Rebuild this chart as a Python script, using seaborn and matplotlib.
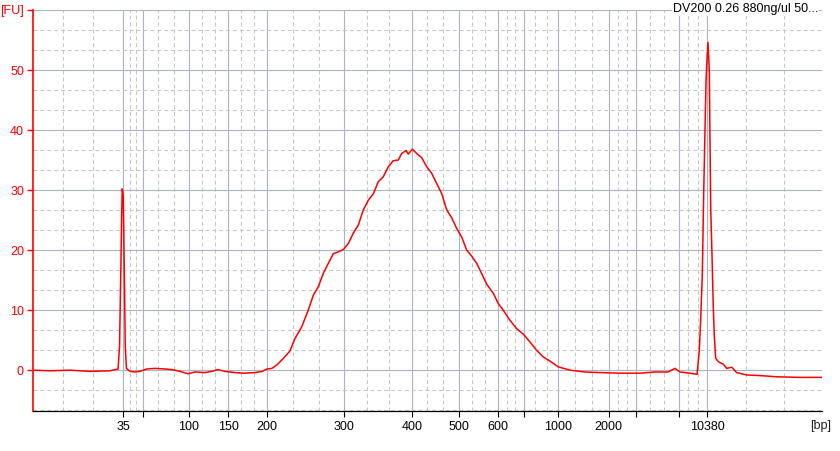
import numpy as np
import pandas as pd
import seaborn as sns
import matplotlib.pyplot as plt
from matplotlib.ticker import MultipleLocator, FixedLocator

# migration time (s) and fluorescence (FU)
time_s = [19.0, 20.13, 21.47, 22.8, 24.13, 24.67, 24.77, 24.85, 24.91, 24.95, 25.02, 25.09, 25.15, 25.23,
          25.47, 25.8, 26.13, 26.6, 27.13, 27.8, 28.27, 28.8, 29.33, 29.8, 30.47, 30.93, 31.33, 31.8,
          32.47, 33.13, 33.8, 34.27, 34.6, 34.93, 35.27, 35.67, 36.13, 36.47, 36.91, 37.35, 37.69, 38.02,
          38.35, 38.69, 39.02, 39.35, 39.69, 40.02, 40.35, 40.69, 41.02, 41.35, 41.69, 42.02, 42.35, 42.69,
          43.02, 43.35, 43.58, 43.87, 44.02, 44.29, 44.58, 44.91, 45.25, 45.58, 45.91, 46.25, 46.58, 46.91,
          47.25, 47.58, 47.91, 48.25, 48.58, 48.91, 49.25, 49.69, 50.02, 50.35, 50.8, 51.25, 51.69, 52.13,
          52.58, 53.02, 53.47, 54.02, 54.8, 55.8, 56.8, 58.13, 59.47, 60.47, 61.33, 61.8, 62.13, 62.8,
          63.27, 63.42, 63.51, 63.62, 63.71, 63.8, 63.87, 63.93, 64.0, 64.09, 64.13, 64.18, 64.27, 64.35,
          64.42, 64.51, 64.69, 65.02, 65.25, 65.58, 65.91, 66.58, 67.47, 68.58, 70.13, 71.6]
fu = [0.0, -0.1, 0.0, -0.2, -0.1, 0.2, 3.9, 16.0, 25.5, 30.2, 29.0, 16.0, 4.0, 0.3,
      -0.2, -0.3, -0.2, 0.2, 0.3, 0.2, 0.1, -0.2, -0.6, -0.3, -0.4, -0.2, 0.1, -0.2,
      -0.4, -0.5, -0.4, -0.2, 0.2, 0.3, 0.9, 1.9, 3.2, 5.3, 7.2, 10.0, 12.5, 13.9,
      16.1, 17.8, 19.4, 19.7, 20.1, 21.1, 22.8, 24.2, 26.7, 28.3, 29.4, 31.4, 32.2, 33.9,
      34.9, 35.0, 36.1, 36.6, 36.0, 36.8, 36.1, 35.4, 33.9, 32.8, 31.1, 29.4, 26.7, 25.4,
      23.6, 22.2, 20.0, 19.0, 17.8, 16.1, 14.3, 12.8, 11.1, 10.0, 8.3, 6.9, 6.0, 4.7,
      3.3, 2.2, 1.5, 0.55, 0.0, -0.3, -0.4, -0.5, -0.5, -0.3, -0.3, 0.3, -0.3, -0.5,
      -0.7, 3.3, 8.3, 15.8, 29.2, 40.0, 48.3, 51.7, 54.6, 49.7, 39.0, 27.2, 18.9, 10.6,
      5.8, 2.0, 1.4, 1.0, 0.3, 0.5, -0.4, -0.8, -0.9, -1.1, -1.2, -1.2]

# ladder positions (s) and size labels (bp)
ladder_pos = [25.0, 26.3, 29.4, 32.0, 34.6, 39.75, 44.25, 47.38, 50.0, 51.71, 54.0, 57.38, 59.18, 62.05, 63.95]
ladder_lbl = ['35', '', '100', '150', '200', '300', '400', '500', '600', '', '1000', '2000', '', '', '10380']

xmin, xmax = 19.0, 71.6
ymin, ymax = -6.8, 60

df = pd.DataFrame({'time': time_s, 'fu': fu})

sns.set_theme(style='white')
plt.rcParams['font.family'] = ['Liberation Sans', 'DejaVu Sans']

fig = plt.figure(figsize=(8.4, 4.51), dpi=100)
ax = fig.add_axes([33 / 840, 1 - 411 / 451, (822 - 33) / 840, (411 - 10) / 451])

sns.lineplot(data=df, x='time', y='fu', ax=ax, color='#ff0000', linewidth=1.1,
             estimator=None, sort=False, zorder=5)

ax.set_xlim(xmin, xmax)
ax.set_ylim(ymin, ymax)
ax.set_xlabel('')
ax.set_ylabel('')

# x ticks / grid
ax.xaxis.set_major_locator(FixedLocator(ladder_pos))
ax.set_xticklabels(ladder_lbl)
bounds = [xmin] + ladder_pos + [xmax]
minor_x = []
for a, b in zip(bounds[:-1], bounds[1:]):
    minor_x += [a + (b - a) / 3, a + 2 * (b - a) / 3]
minor_x.append(xmax)
ax.xaxis.set_minor_locator(FixedLocator(minor_x))

# y ticks / grid
ax.yaxis.set_major_locator(FixedLocator([0, 10, 20, 30, 40, 50, 60]))
ax.set_yticklabels(['0', '10', '20', '30', '40', '50', '[FU]'])
ax.yaxis.set_minor_locator(MultipleLocator(10 / 3))

ax.set_axisbelow(True)
ax.grid(which='major', color='#aab4c4', linewidth=0.8, linestyle='-')
ax.grid(which='minor', color='#c6c6c6', linewidth=0.75, linestyle=(0, (3.8, 2.8)))

ax.tick_params(axis='x', which='major', direction='out', length=4.5, width=0.8,
               color='black', labelcolor='black', labelsize=9, pad=3)
ax.tick_params(axis='y', which='major', direction='out', length=4.5, width=1.0,
               color='#ff0000', labelcolor='#ff0000', labelsize=9, pad=2)
ax.tick_params(which='minor', length=0)
ax.tick_params(left=True, bottom=True)

for s in ['top', 'right']:
    ax.spines[s].set_visible(False)
ax.spines['left'].set_color('#ff0000')
ax.spines['left'].set_linewidth(1.2)
ax.spines['bottom'].set_color('black')
ax.spines['bottom'].set_linewidth(0.9)

fig.text(818 / 840, 1 - 9 / 451, 'DV200 0.26 880ng/ul 50...', ha='right', va='center',
         fontsize=9, color='black',
         bbox=dict(facecolor='white', edgecolor='none', pad=0.5))
fig.text(821 / 840, 1 - 426 / 451, '[bp]', ha='center', va='center', fontsize=9, color='#222222')

fig.savefig('out.png', dpi=100)
